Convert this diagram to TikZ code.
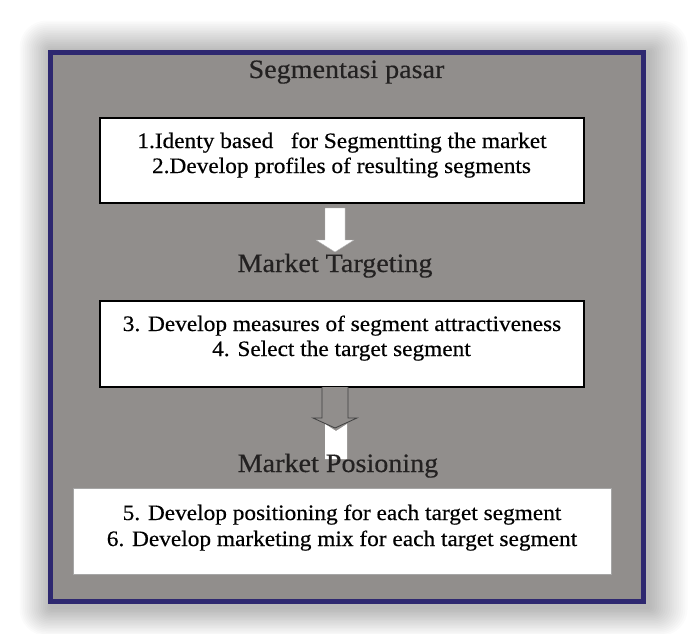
\documentclass[tikz,border=0pt]{standalone}
\usepackage{fontspec}
\setmainfont{Liberation Serif}[FakeStretch=1.06,FakeBold=0.45]
\definecolor{panelgray}{RGB}{145,142,140}
\definecolor{navyborder}{RGB}{46,40,112}
\definecolor{titlegray}{RGB}{35,33,33}
\tikzset{
  whitebox/.style={draw=black, line width=2.2pt, fill=white, inner sep=0pt},
  plainbox/.style={draw=gray!70, line width=0.8pt, fill=white, inner sep=0pt},
  heading/.style={anchor=base, inner sep=0pt, text=titlegray, font=\fontsize{26.5}{28}\selectfont},
  boxtext/.style={anchor=base, inner sep=0pt, text=black, font=\fontsize{22}{24}\selectfont},
}
\begin{document}
\begin{tikzpicture}[x=1pt,y=-1pt]
\useasboundingbox (0,0) rectangle (689,634);
\fill[white] (0,0) rectangle (689,634);
% soft shadow
\foreach \i in {1,...,18}{
  \fill[black, fill opacity=0.014, rounded corners=\i*1.5pt]
    (48-1.8*\i+4, 50-1.8*\i+3) rectangle (645+2.2*\i+3, 603+1.6*\i+4);
}
% panel
\draw[navyborder, line width=5pt, fill=panelgray] (50.5,52.5) rectangle (643,601);
% title
\node[heading] (t1) at (346.5,78) {Segmentasi pasar};
% box 1
\node[whitebox, minimum width=484pt, minimum height=85pt] (b1) at (342,160.5) {};
\node[boxtext] (l1) at (342,148) {1.Identy based\ \ \ for Segmentting the market};
\node[boxtext] (l2) at (341.5,173) {2.Develop profiles of resulting segments};
% arrow 1
\fill[white, draw=gray!60, line width=0.4pt]
  (325,208) -- (345,208) -- (345,240) -- (354,240) -- (335,252) -- (316,240) -- (325,240) -- cycle;
% market targeting
\node[heading] (t2) at (335,272) {Market Targeting};
% box 2
\node[whitebox, minimum width=484pt, minimum height=86pt] (b2) at (342,344) {};
\node[boxtext] (l3) at (342,331) {3. Develop measures of segment attractiveness};
\node[boxtext] (l4) at (341.5,356) {4. Select the target segment};
% arrow 2 : outlined arrow plus white tail
\fill[white] (325,424) -- (336,431) -- (347,424) -- (347,459) -- (325,459) -- cycle;
\draw[black!75, line width=0.8pt, fill=panelgray]
  (322,387) -- (322,418) -- (313,418) -- (335,428) -- (357,418) -- (348,418) -- (348,387);
% market posioning
\node[heading] (t3) at (338,472) {Market Posioning};
% box 3
\node[plainbox, minimum width=538pt, minimum height=86pt] (b3) at (342,531) {};
\node[boxtext] (l5) at (342,520) {5. Develop positioning for each target segment};
\node[boxtext] (l6) at (342,546) {6. Develop marketing mix for each target segment};
\end{tikzpicture}
\end{document}
